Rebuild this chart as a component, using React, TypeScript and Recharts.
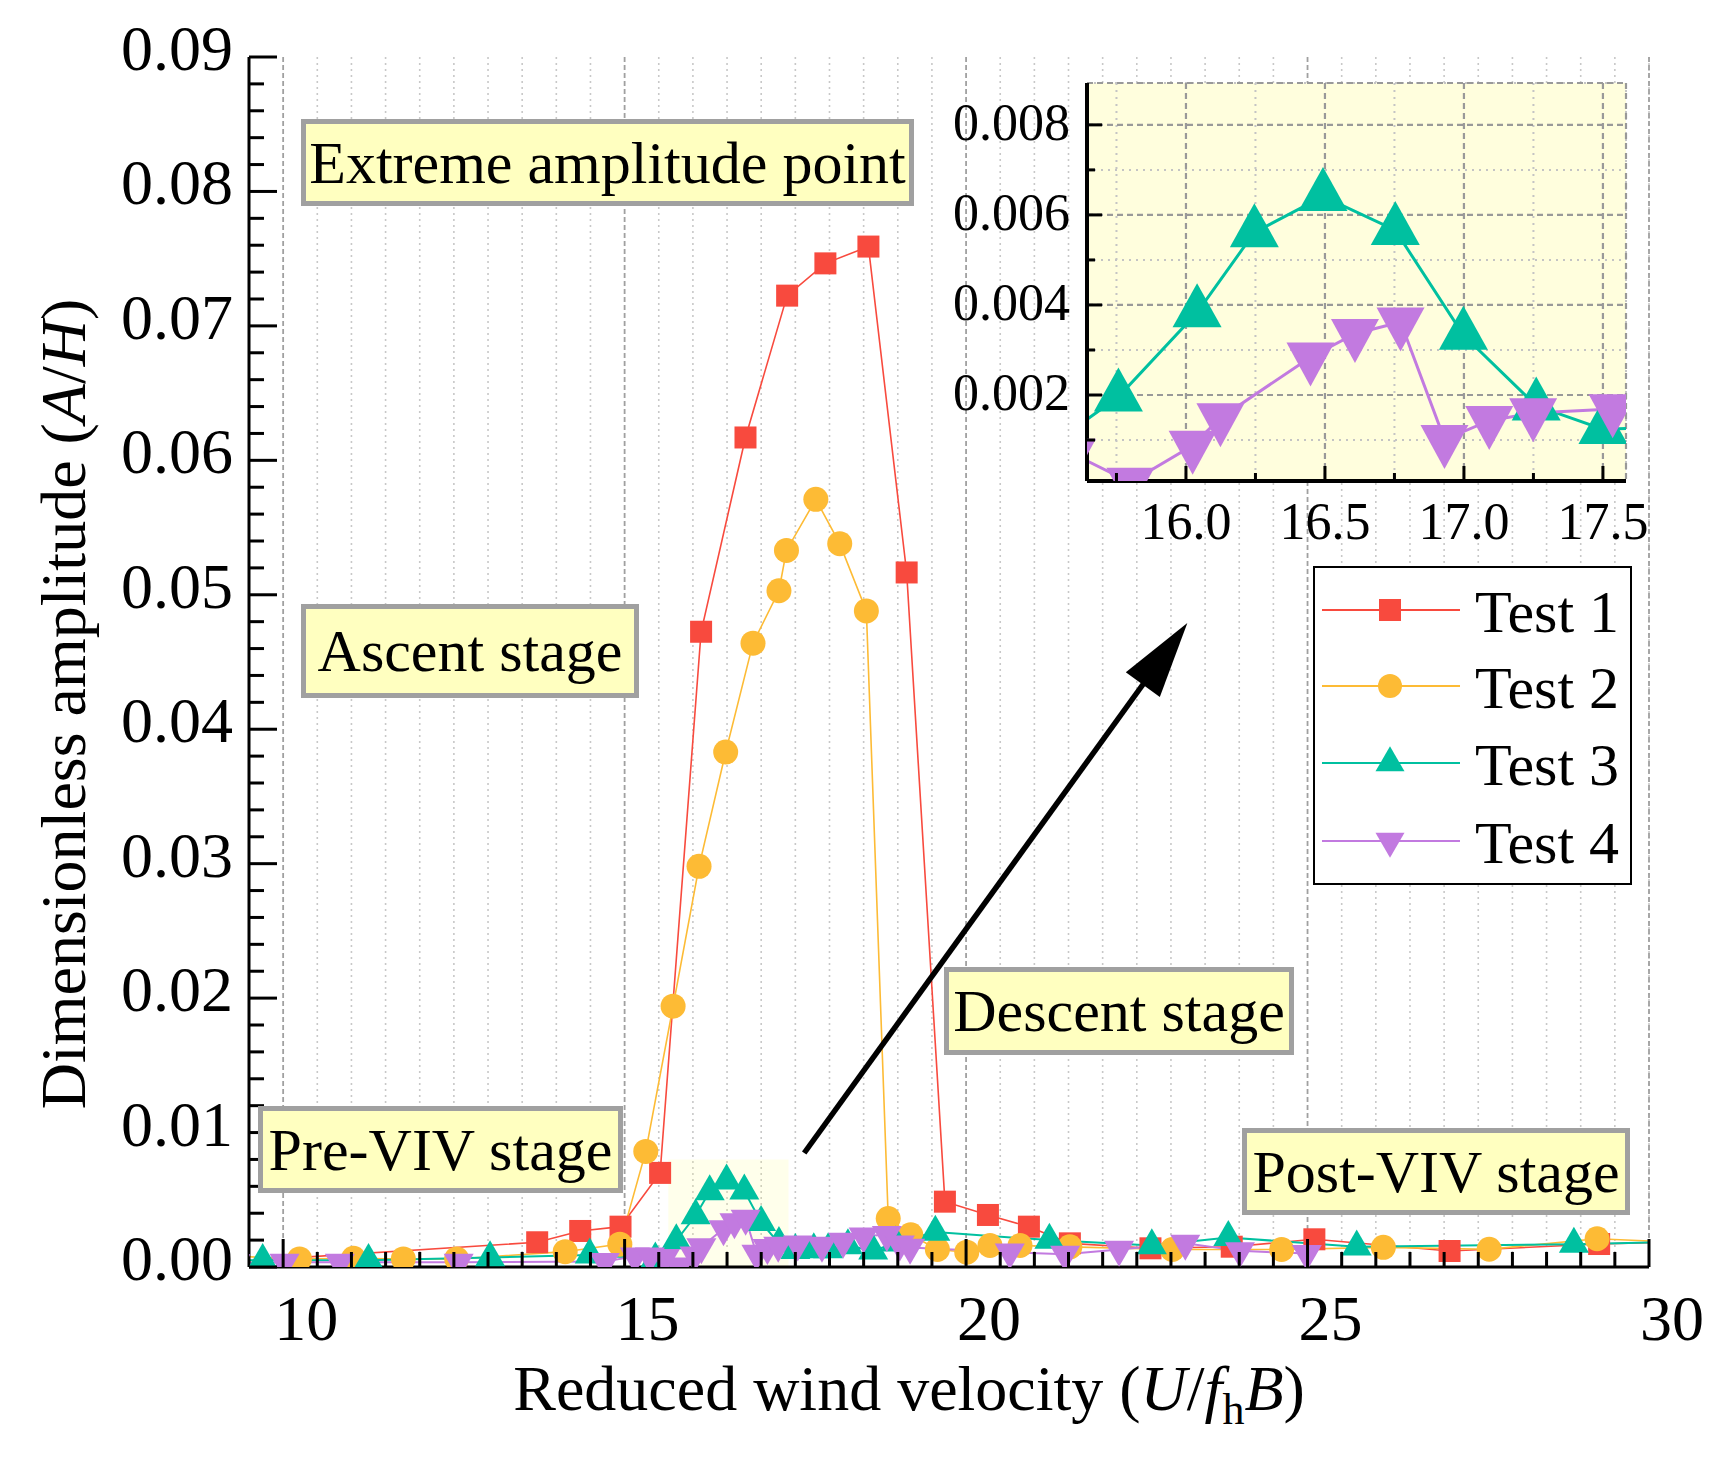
import React from 'react';
import { LineChart, Line, XAxis, YAxis, CartesianGrid, ReferenceArea, ReferenceLine } from 'recharts';

const FONT = "'Liberation Serif', 'Times New Roman', Times, serif";

const RED = '#f84a3e';
const ORANGE = '#fdbb35';
const TEAL = '#00c0a0';
const PURPLE = '#c27ae0';

// ---------------- data ----------------
const seriesNames = ['Test 1', 'Test 2', 'Test 3', 'Test 4'];

const test1X = [9.3, 13.72, 14.35, 14.94, 15.52, 16.12, 16.77, 17.38, 17.94, 18.57, 19.13, 19.69, 20.32, 20.92, 21.52, 22.7, 23.89, 25.1, 27.08, 29.27, 30.6];
const test1Y = [0.0004, 0.00184, 0.00268, 0.003, 0.007, 0.04725, 0.0617, 0.07225, 0.07465, 0.0759, 0.05166, 0.00486, 0.00387, 0.003, 0.00176, 0.00139, 0.00151, 0.00206, 0.00119, 0.00171, 0.0019];

const test2X = [9.3, 10.24, 11.03, 11.76, 12.54, 14.13, 14.93, 15.31, 15.71, 16.09, 16.48, 16.88, 17.26, 17.37, 17.8, 18.15, 18.54, 18.86, 19.19, 19.58, 20.01, 20.35, 20.79, 21.52, 23.02, 24.62, 26.11, 27.66, 29.24, 30.6];
const test2Y = [0.0008, 0.0006, 0.00065, 0.0006, 0.0006, 0.00114, 0.0017, 0.0086, 0.0194, 0.0298, 0.0383, 0.0464, 0.0503, 0.0533, 0.0571, 0.0538, 0.0488, 0.0036, 0.0024, 0.0013, 0.0011, 0.0016, 0.0016, 0.0015, 0.0013, 0.0013, 0.00146, 0.00132, 0.0021, 0.0018];

const test3X = [9.3, 9.7, 11.25, 13.03, 14.49, 15.45, 15.757, 16.04, 16.246, 16.493, 16.753, 16.998, 17.26, 17.5, 17.77, 17.98, 18.27, 18.64, 18.97, 19.55, 21.22, 22.72, 23.84, 25.72, 28.9, 30.6];
const test3Y = [0.0005, 0.0005, 0.0005, 0.0007, 0.0009, 0.0006, 0.00196, 0.00383, 0.00561, 0.00641, 0.00566, 0.00333, 0.00176, 0.00124, 0.0013, 0.0013, 0.0016, 0.0012, 0.0018, 0.0026, 0.002, 0.0016, 0.0022, 0.0015, 0.0017, 0.0019];

const test4X = [9.3, 10.02, 10.83, 12.57, 14.71, 15.15, 15.37, 15.59, 15.8, 16.024, 16.124, 16.448, 16.608, 16.772, 16.93, 17.091, 17.249, 17.535, 17.89, 18.2, 18.5, 18.84, 19.03, 19.18, 20.64, 21.45, 22.24, 23.21, 24.01, 24.99];
const test4Y = [0.0003, 0.00035, 0.00035, 0.00035, 0.0004, 0.0008, 0.0008, 0.0007, 0.00006, 0.00088, 0.00149, 0.00284, 0.00336, 0.00362, 0.00101, 0.00143, 0.0016, 0.00169, 0.0016, 0.0019, 0.0023, 0.0024, 0.0017, 0.00145, 0.0011, 0.00094, 0.0013, 0.00176, 0.0012, 0.001];

// ticks
const xMajorTicks = [10, 15, 20, 25, 30];
const xMinorTicks = Array.from({ length: 41 }, (_, k) => 10 + k * 0.5).filter((v) => v % 5 !== 0);
const yMajorTicks = [0, 0.01, 0.02, 0.03, 0.04, 0.05, 0.06, 0.07, 0.08, 0.09];
const yMinorTicks = Array.from({ length: 46 }, (_, k) => Number((k * 0.002).toFixed(3))).filter((_, k) => k % 5 !== 0);

const insetXMajor = [16.0, 16.5, 17.0, 17.5];
const insetXMinor = [15.75, 16.25, 16.75, 17.25];
const insetYMajor = [0.002, 0.004, 0.006, 0.008];
const insetYMinor = [0.001, 0.003, 0.005, 0.007];

// annotation (zoom window & arrow) in data units
const zoomWindow = { x1: 15.64, x2: 17.4, y1: 0, y2: 0.008 };
const arrowFrom = { x: 17.63, y: 0.00848 };
const arrowTo = { x: 23.24, y: 0.0479 };

const stageLabels = ['Extreme amplitude point', 'Ascent stage', 'Pre-VIV stage', 'Descent stage', 'Post-VIV stage'];

// ---------------- helpers ----------------
const toPoints = (xs: number[], ys: number[]) => xs.map((x, i) => ({ x, y: ys[i] }));
const d1 = toPoints(test1X, test1Y);
const d2 = toPoints(test2X, test2Y);
const d3 = toPoints(test3X, test3Y);
const d4 = toPoints(test4X, test4Y);

const near = (arr: number[], v: number) => arr.some((t) => Math.abs(t - v) < 1e-9);

function triPath(cx: number, cy: number, w: number, h: number, up: boolean) {
  if (up) return `M${cx},${cy - (2 * h) / 3} L${cx + w / 2},${cy + h / 3} L${cx - w / 2},${cy + h / 3} Z`;
  return `M${cx},${cy + (2 * h) / 3} L${cx + w / 2},${cy - h / 3} L${cx - w / 2},${cy - h / 3} Z`;
}

function Marker({ kind, cx, cy, w, h, color }: any) {
  if (kind === 'square') return <rect x={cx - w / 2} y={cy - h / 2} width={w} height={h} fill={color} />;
  if (kind === 'circle') return <ellipse cx={cx} cy={cy} rx={w / 2} ry={h / 2} fill={color} />;
  return <path d={triPath(cx, cy, w, h, kind === 'up')} fill={color} />;
}

function mkDot(kind: string, color: string, w: number, h: number) {
  return (props: any) => {
    const { cx, cy, index } = props;
    const key = `dot-${kind}-${w}-${index}`;
    if (cx == null || cy == null || Number.isNaN(cx) || Number.isNaN(cy)) return <g key={key} />;
    return (
      <g key={key}>
        <Marker kind={kind} cx={cx} cy={cy} w={w} h={h} color={color} />
      </g>
    );
  };
}

// ---------------- main axis ticks ----------------
const bottomTick = (p: any) => {
  const { x, y, payload } = p;
  const v = payload.value;
  const major = near(xMajorTicks, v);
  return (
    <g>
      <line x1={x} y1={y} x2={x} y2={y - (major ? 28 : 15)} stroke="#000" strokeWidth={3} />
      {major && (
        <text x={x + 23} y={y + 73} textAnchor="middle" fontSize={64} fontFamily={FONT} fill="#000">
          {String(v)}
        </text>
      )}
    </g>
  );
};
const topTick = (p: any) => {
  const { x, y, payload } = p;
  const major = near(xMajorTicks, payload.value);
  return <line x1={x} y1={y} x2={x} y2={y + (major ? 28 : 15)} stroke="#000" strokeWidth={3} />;
};
const leftTick = (p: any) => {
  const { x, y, payload } = p;
  const v = payload.value;
  const major = near(yMajorTicks, v);
  return (
    <g>
      <line x1={x} y1={y} x2={x + (major ? 28 : 15)} y2={y} stroke="#000" strokeWidth={3} />
      {major && (
        <text x={x - 16} y={y + 13} textAnchor="end" fontSize={64} fontFamily={FONT} fill="#000">
          {v.toFixed(2)}
        </text>
      )}
    </g>
  );
};
const rightTick = (p: any) => {
  const { x, y, payload } = p;
  const major = near(yMajorTicks, payload.value);
  return <line x1={x} y1={y} x2={x - (major ? 28 : 15)} y2={y} stroke="#000" strokeWidth={3} />;
};

// ---------------- inset axis ticks ----------------
const insetBottomTick = (p: any) => {
  const { x, y, payload } = p;
  const v = payload.value;
  const major = near(insetXMajor, v);
  return (
    <g>
      <line x1={x} y1={y} x2={x} y2={y - (major ? 15 : 8)} stroke="#000" strokeWidth={3} />
      {major && (
        <text x={x} y={y + 58} textAnchor="middle" fontSize={52} fontFamily={FONT} fill="#000">
          {v.toFixed(1)}
        </text>
      )}
    </g>
  );
};
const insetTopTick = (p: any) => {
  const { x, y, payload } = p;
  const major = near(insetXMajor, payload.value);
  return <line x1={x} y1={y} x2={x} y2={y + (major ? 15 : 8)} stroke="#000" strokeWidth={3} />;
};
const insetLeftTick = (p: any) => {
  const { x, y, payload } = p;
  const v = payload.value;
  const major = near(insetYMajor, v);
  return (
    <g>
      <line x1={x} y1={y} x2={x + (major ? 15 : 8)} y2={y} stroke="#000" strokeWidth={3} />
      {major && (
        <text x={x - 17} y={y + 15} textAnchor="end" fontSize={52} fontFamily={FONT} fill="#000">
          {v.toFixed(3)}
        </text>
      )}
    </g>
  );
};
const insetRightTick = (p: any) => {
  const { x, y, payload } = p;
  const major = near(insetYMajor, payload.value);
  return <line x1={x} y1={y} x2={x - (major ? 15 : 8)} y2={y} stroke="#000" strokeWidth={3} />;
};

const ArrowShape = (props: any) => {
  const { x1, y1, x2, y2 } = props;
  if ([x1, y1, x2, y2].some((v) => v == null || Number.isNaN(v))) return <g />;
  const dx = x2 - x1;
  const dy = y2 - y1;
  const len = Math.hypot(dx, dy) || 1;
  const ux = dx / len;
  const uy = dy / len;
  const headLen = 76;
  const headHalf = 21;
  const bx = x2 - ux * headLen;
  const by = y2 - uy * headLen;
  const px = -uy;
  const py = ux;
  return (
    <g>
      <line x1={x1} y1={y1} x2={bx + ux * 6} y2={by + uy * 6} stroke="#000" strokeWidth={5.5} />
      <path d={`M${x2},${y2} L${bx + px * headHalf},${by + py * headHalf} L${bx - px * headHalf},${by - py * headHalf} Z`} fill="#000" />
    </g>
  );
};

const MAIN_X_DOMAIN: [number, number] = [9.5, 30];
const MAIN_Y_DOMAIN: [number, number] = [0, 0.09];
const INSET_X_DOMAIN: [number, number] = [15.644, 17.583];
const INSET_Y_DOMAIN: [number, number] = [0.00009, 0.00893];

const allXTicks = [...xMajorTicks, ...xMinorTicks].sort((a, b) => a - b);
const allYTicks = [...yMajorTicks, ...yMinorTicks].sort((a, b) => a - b);
const insetAllX = [...insetXMajor, ...insetXMinor].sort((a, b) => a - b);
const insetAllY = [...insetYMajor, ...insetYMinor].sort((a, b) => a - b);

function MainChart() {
  return (
    <LineChart width={1724} height={1466} margin={{ top: 57, right: 75, bottom: 99, left: 69 }}>
      <XAxis xAxisId="gMinor" type="number" dataKey="x" domain={MAIN_X_DOMAIN} allowDataOverflow ticks={xMinorTicks} hide />
      <XAxis xAxisId="gMajor" type="number" dataKey="x" domain={MAIN_X_DOMAIN} allowDataOverflow ticks={[10, 15, 20, 25]} hide />
      <CartesianGrid xAxisId="gMinor" horizontal={false} stroke="#c8c8c8" strokeDasharray="2 4" strokeWidth={1.6} />
      <CartesianGrid xAxisId="gMajor" horizontal={false} stroke="#a0a0a0" strokeDasharray="5 3" strokeWidth={1.8} />
      <XAxis
        type="number"
        dataKey="x"
        domain={MAIN_X_DOMAIN}
        allowDataOverflow
        ticks={allXTicks}
        interval={0}
        height={100}
        tickSize={0}
        tickMargin={0}
        tickLine={false}
        axisLine={{ stroke: '#000', strokeWidth: 3 }}
        tick={bottomTick}
      />
      <XAxis
        xAxisId="top"
        orientation="top"
        type="number"
        dataKey="x"
        domain={MAIN_X_DOMAIN}
        allowDataOverflow
        ticks={allXTicks}
        interval={0}
        height={0}
        tickSize={0}
        tickMargin={0}
        tickLine={false}
        axisLine={{ stroke: '#000', strokeWidth: 3 }}
        tick={topTick}
      />
      <YAxis
        type="number"
        domain={MAIN_Y_DOMAIN}
        allowDataOverflow
        ticks={allYTicks}
        interval={0}
        width={180}
        tickSize={0}
        tickMargin={0}
        tickLine={false}
        axisLine={{ stroke: '#000', strokeWidth: 3 }}
        tick={leftTick}
      />
      <YAxis
        yAxisId="right"
        orientation="right"
        type="number"
        domain={MAIN_Y_DOMAIN}
        allowDataOverflow
        ticks={allYTicks}
        interval={0}
        width={0}
        tickSize={0}
        tickMargin={0}
        tickLine={false}
        axisLine={{ stroke: '#000', strokeWidth: 3 }}
        tick={rightTick}
      />
      <ReferenceArea x1={zoomWindow.x1} x2={zoomWindow.x2} y1={zoomWindow.y1} y2={zoomWindow.y2} fill="#ffff80" fillOpacity={0.16} stroke="none" />
      <Line data={d1} dataKey="y" name={seriesNames[0]} type="linear" stroke={RED} strokeWidth={1.6} dot={mkDot('square', RED, 22, 22)} activeDot={false} isAnimationActive={false} />
      <Line data={d2} dataKey="y" name={seriesNames[1]} type="linear" stroke={ORANGE} strokeWidth={1.6} dot={mkDot('circle', ORANGE, 25, 25)} activeDot={false} isAnimationActive={false} />
      <Line data={d3} dataKey="y" name={seriesNames[2]} type="linear" stroke={TEAL} strokeWidth={2} dot={mkDot('up', TEAL, 30, 26)} activeDot={false} isAnimationActive={false} />
      <Line data={d4} dataKey="y" name={seriesNames[3]} type="linear" stroke={PURPLE} strokeWidth={2} dot={mkDot('down', PURPLE, 30, 26)} activeDot={false} isAnimationActive={false} />
      <ReferenceLine segment={[arrowFrom, arrowTo]} stroke="#000" strokeWidth={5} shape={ArrowShape} />
    </LineChart>
  );
}

function InsetChart() {
  return (
    <LineChart width={760} height={500} margin={{ top: 13, right: 34, bottom: 9, left: 87 }}>
      <XAxis xAxisId="gMinor" type="number" dataKey="x" domain={INSET_X_DOMAIN} allowDataOverflow ticks={insetXMinor} hide />
      <XAxis xAxisId="gMajor" type="number" dataKey="x" domain={INSET_X_DOMAIN} allowDataOverflow ticks={insetXMajor} hide />
      <YAxis yAxisId="gMinor" type="number" domain={INSET_Y_DOMAIN} allowDataOverflow ticks={insetYMinor} hide />
      <YAxis yAxisId="gMajor" type="number" domain={INSET_Y_DOMAIN} allowDataOverflow ticks={insetYMajor} hide />
      <CartesianGrid xAxisId="gMinor" yAxisId="gMinor" fill="#fffedd" fillOpacity={1} stroke="#c4c4c4" strokeDasharray="2 5" strokeWidth={2} />
      <CartesianGrid xAxisId="gMajor" yAxisId="gMajor" stroke="#999999" strokeDasharray="6 4" strokeWidth={2.2} />
      <XAxis
        type="number"
        dataKey="x"
        domain={INSET_X_DOMAIN}
        allowDataOverflow
        ticks={insetAllX}
        interval={0}
        height={80}
        tickSize={0}
        tickMargin={0}
        tickLine={false}
        axisLine={{ stroke: '#000', strokeWidth: 4 }}
        tick={insetBottomTick}
      />
      <XAxis
        xAxisId="top"
        orientation="top"
        type="number"
        dataKey="x"
        domain={INSET_X_DOMAIN}
        allowDataOverflow
        ticks={insetAllX}
        interval={0}
        height={0}
        tickSize={0}
        tickMargin={0}
        tickLine={false}
        axisLine={{ stroke: '#000', strokeWidth: 4 }}
        tick={insetTopTick}
      />
      <YAxis
        type="number"
        domain={INSET_Y_DOMAIN}
        allowDataOverflow
        ticks={insetAllY}
        interval={0}
        width={100}
        tickSize={0}
        tickMargin={0}
        tickLine={false}
        axisLine={{ stroke: '#000', strokeWidth: 4 }}
        tick={insetLeftTick}
      />
      <YAxis
        yAxisId="right"
        orientation="right"
        type="number"
        domain={INSET_Y_DOMAIN}
        allowDataOverflow
        ticks={insetAllY}
        interval={0}
        width={0}
        tickSize={0}
        tickMargin={0}
        tickLine={false}
        axisLine={{ stroke: '#000', strokeWidth: 4 }}
        tick={insetRightTick}
      />
      <Line data={d3} dataKey="y" type="linear" stroke={TEAL} strokeWidth={3} dot={mkDot('up', TEAL, 49, 44)} activeDot={false} isAnimationActive={false} />
      <Line data={d4} dataKey="y" type="linear" stroke={PURPLE} strokeWidth={3} dot={mkDot('down', PURPLE, 48, 44)} activeDot={false} isAnimationActive={false} />
    </LineChart>
  );
}

// layout of annotation boxes (outer pixel rectangles)
const boxLayout = [
  { x: 301, y: 119, w: 613, h: 87 },
  { x: 301, y: 604, w: 338, h: 94 },
  { x: 258, y: 1106, w: 365, h: 87 },
  { x: 944, y: 967, w: 350, h: 88 },
  { x: 1242, y: 1128, w: 388, h: 87 },
];

const legendKinds = [
  { color: RED, kind: 'square', w: 22, h: 22 },
  { color: ORANGE, kind: 'circle', w: 24, h: 24 },
  { color: TEAL, kind: 'up', w: 29, h: 25 },
  { color: PURPLE, kind: 'down', w: 29, h: 25 },
];

function Overlay() {
  const legendRowY = [610, 686, 763, 841];
  return (
    <svg width={1724} height={1466} style={{ position: 'absolute', left: 0, top: 0, pointerEvents: 'none' }}>
      {boxLayout.map((b, i) => (
        <g key={i}>
          <rect x={b.x + 2.5} y={b.y + 2.5} width={b.w - 5} height={b.h - 5} fill="#ffffc0" stroke="#a0a0a0" strokeWidth={5} />
          <text x={b.x + b.w / 2} y={b.y + b.h / 2 + 20} textAnchor="middle" fontSize={60} fontFamily={FONT} fill="#000">
            {stageLabels[i]}
          </text>
        </g>
      ))}
      <rect x={1314} y={567} width={317} height={317} fill="#fff" stroke="#000" strokeWidth={2} />
      {seriesNames.map((n, i) => (
        <g key={n}>
          <line x1={1322} y1={legendRowY[i]} x2={1460} y2={legendRowY[i]} stroke={legendKinds[i].color} strokeWidth={2} />
          <Marker kind={legendKinds[i].kind} cx={1390} cy={legendRowY[i]} w={legendKinds[i].w} h={legendKinds[i].h} color={legendKinds[i].color} />
          <text x={1475} y={legendRowY[i] + 22} fontSize={60} fontFamily={FONT} fill="#000">
            {n}
          </text>
        </g>
      ))}
      <text x={909} y={1410} textAnchor="middle" fontSize={64} fontFamily={FONT} fill="#000">
        Reduced wind velocity (<tspan fontStyle="italic">U</tspan>/<tspan fontStyle="italic">f</tspan>
        <tspan fontSize={44} dy={14}>h</tspan>
        <tspan fontStyle="italic" dy={-14}>B</tspan>)
      </text>
      <text transform="translate(85,704) rotate(-90)" textAnchor="middle" fontSize={64} fontFamily={FONT} fill="#000">
        Dimensionless amplitude (<tspan fontStyle="italic">A</tspan>/<tspan fontStyle="italic">H</tspan>)
      </text>
    </svg>
  );
}

export default function App() {
  return (
    <div style={{ position: 'absolute', left: 0, top: 0, width: 1724, height: 1466, background: '#fff', overflow: 'hidden' }}>
      <div style={{ position: 'absolute', left: 0, top: 0 }}>
        <MainChart />
      </div>
      <div style={{ position: 'absolute', left: 900, top: 70 }}>
        <InsetChart />
      </div>
      <Overlay />
    </div>
  );
}
